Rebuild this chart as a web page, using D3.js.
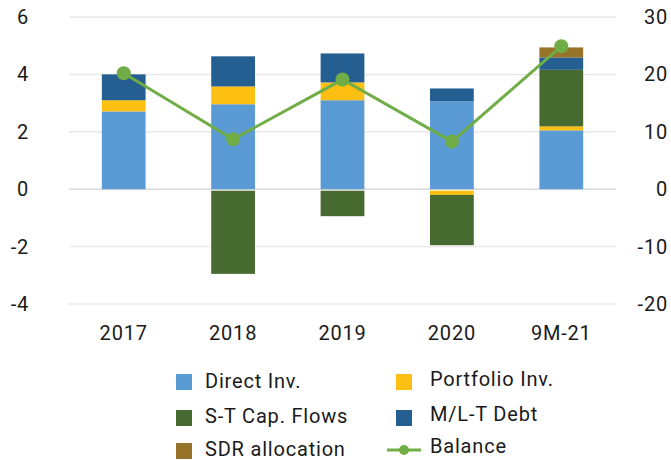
<!DOCTYPE html>
<html>
<head>
<meta charset="utf-8">
<script src="https://cdn.jsdelivr.net/npm/d3@7"></script>
<style>
  body { margin: 0; background: #fff; }
  svg { font-family: Roboto, sans-serif; }
</style>
</head>
<body>
<svg id="chart" width="671" height="460"></svg>
<script>
const categories = ['2017', '2018', '2019', '2020', '9M-21']
const directInv = [2.71, 2.96, 3.1, 3.06, 2.05]
const portfolioInv = [0.39, 0.62, 0.62, -0.2, 0.14]
const stCapFlows = [0, -2.95, -0.94, -1.75, 1.97]
const mltDebt = [0.9, 1.05, 1.01, 0.45, 0.43]
const sdrAllocation = [0, 0, 0, 0, 0.35]
const balance = [20.2, 8.7, 19.1, 8.3, 24.9]
const leftTicks = [-4, -2, 0, 2, 4, 6]
const rightTicks = [-20, -10, 0, 10, 20, 30]

const series = [
  { name: 'Direct Inv.', values: directInv, color: '#5b9bd5' },
  { name: 'Portfolio Inv.', values: portfolioInv, color: '#fcbf12' },
  { name: 'S-T Cap. Flows', values: stCapFlows, color: '#476a30' },
  { name: 'M/L-T Debt', values: mltDebt, color: '#255e91' },
  { name: 'SDR allocation', values: sdrAllocation, color: '#977229' },
]
const balanceColor = '#70ad47'
const textColor = '#1a1a1a'
const fontSize = 20
const spacing = '0.8px'

const plot = { left: 69, right: 616, top: 17, bottom: 304 }

const svg = d3.select('#chart')

const x = d3.scaleBand()
  .domain(categories)
  .range([plot.left, plot.right])
  .paddingInner(0.6)
  .paddingOuter(0.3)

const y = d3.scaleLinear().domain([-4, 6]).range([plot.bottom, plot.top])
const y2 = d3.scaleLinear().domain([-20, 30]).range(y.range())

// gridlines
svg.append('g')
  .selectAll('line')
  .data(leftTicks)
  .join('line')
  .attr('x1', plot.left)
  .attr('x2', plot.right)
  .attr('y1', (d) => y(d))
  .attr('y2', (d) => y(d))
  .attr('stroke', (d) => (d === 0 ? '#d9d9d9' : '#e8e8e8'))
  .attr('stroke-width', 1.5)

// stacked bars, positives and negatives stacked apart
const stacks = categories.map(() => ({ pos: 0, neg: 0 }))
series.forEach((s) => {
  const g = svg.append('g').attr('fill', s.color)
  s.values.forEach((v, i) => {
    if (!v) return
    let y0, y1
    if (v > 0) {
      y0 = stacks[i].pos
      y1 = y0 + v
      stacks[i].pos = y1
    } else {
      y0 = stacks[i].neg
      y1 = y0 + v
      stacks[i].neg = y1
    }
    // small gap below the zero line for negative bars
    const gap = v < 0 && y0 === 0 ? 1.5 : 0
    g.append('rect')
      .attr('x', x(categories[i]))
      .attr('width', x.bandwidth())
      .attr('y', y(Math.max(y0, y1)) + gap)
      .attr('height', Math.abs(y(y0) - y(y1)) - gap)
  })
})

// balance line
const cx = (i) => x(categories[i]) + x.bandwidth() / 2
const line = d3.line()
  .x((d, i) => cx(i))
  .y((d) => y2(d))

svg.append('path')
  .datum(balance)
  .attr('d', line)
  .attr('fill', 'none')
  .attr('stroke', balanceColor)
  .attr('stroke-width', 3)

svg.append('g')
  .selectAll('circle')
  .data(balance)
  .join('circle')
  .attr('cx', (d, i) => cx(i))
  .attr('cy', (d) => y2(d))
  .attr('r', 7)
  .attr('fill', balanceColor)

// axes
const fmt = (d) => String(d)

const axisLeft = svg.append('g')
  .attr('transform', 'translate(29,0)')
  .call(d3.axisLeft(y).tickValues(leftTicks).tickFormat(fmt).tickSize(0).tickPadding(0))
axisLeft.select('.domain').remove()

const axisRight = svg.append('g')
  .attr('transform', 'translate(668,0)')
  .call(d3.axisLeft(y2).tickValues(rightTicks).tickFormat(fmt).tickSize(0).tickPadding(0))
axisRight.select('.domain').remove()

const axisBottom = svg.append('g')
  .attr('transform', 'translate(0,340)')
  .call(d3.axisBottom(x).tickSize(0).tickPadding(0))
axisBottom.select('.domain').remove()
axisBottom.selectAll('.tick text').attr('dy', null)

svg.selectAll('.tick text')
  .attr('font-family', 'Roboto, sans-serif')
  .attr('font-size', fontSize)
  .attr('letter-spacing', spacing)
  .attr('fill', textColor)

// legend
const legendItems = [
  { name: 'Direct Inv.', color: series[0].color, x: 176, y: 374, base: 388 },
  { name: 'Portfolio Inv.', color: series[1].color, x: 396, y: 374, base: 386 },
  { name: 'S-T Cap. Flows', color: series[2].color, x: 176, y: 410, base: 423 },
  { name: 'M/L-T Debt', color: series[3].color, x: 396, y: 410, base: 421 },
  { name: 'SDR allocation', color: series[4].color, x: 176, y: 443, base: 456 },
  { name: 'Balance', color: balanceColor, x: 396, y: 443, base: 453, line: true },
]

const legend = svg.append('g')
legendItems.forEach((d) => {
  const item = legend.append('g')
  if (d.line) {
    item.append('line')
      .attr('x1', d.x - 9).attr('x2', d.x + 25)
      .attr('y1', d.y + 7).attr('y2', d.y + 7)
      .attr('stroke', d.color).attr('stroke-width', 3)
    item.append('circle')
      .attr('cx', d.x + 8).attr('cy', d.y + 7).attr('r', 5)
      .attr('fill', d.color)
  } else {
    item.append('rect')
      .attr('x', d.x).attr('y', d.y)
      .attr('width', 16).attr('height', 16)
      .attr('fill', d.color)
  }
  item.append('text')
    .attr('x', d.x + (d.x > 300 ? 34 : 29))
    .attr('y', d.base)
    .attr('font-size', fontSize)
    .attr('letter-spacing', spacing)
    .attr('fill', textColor)
    .text(d.name)
})
</script>
</body>
</html>
